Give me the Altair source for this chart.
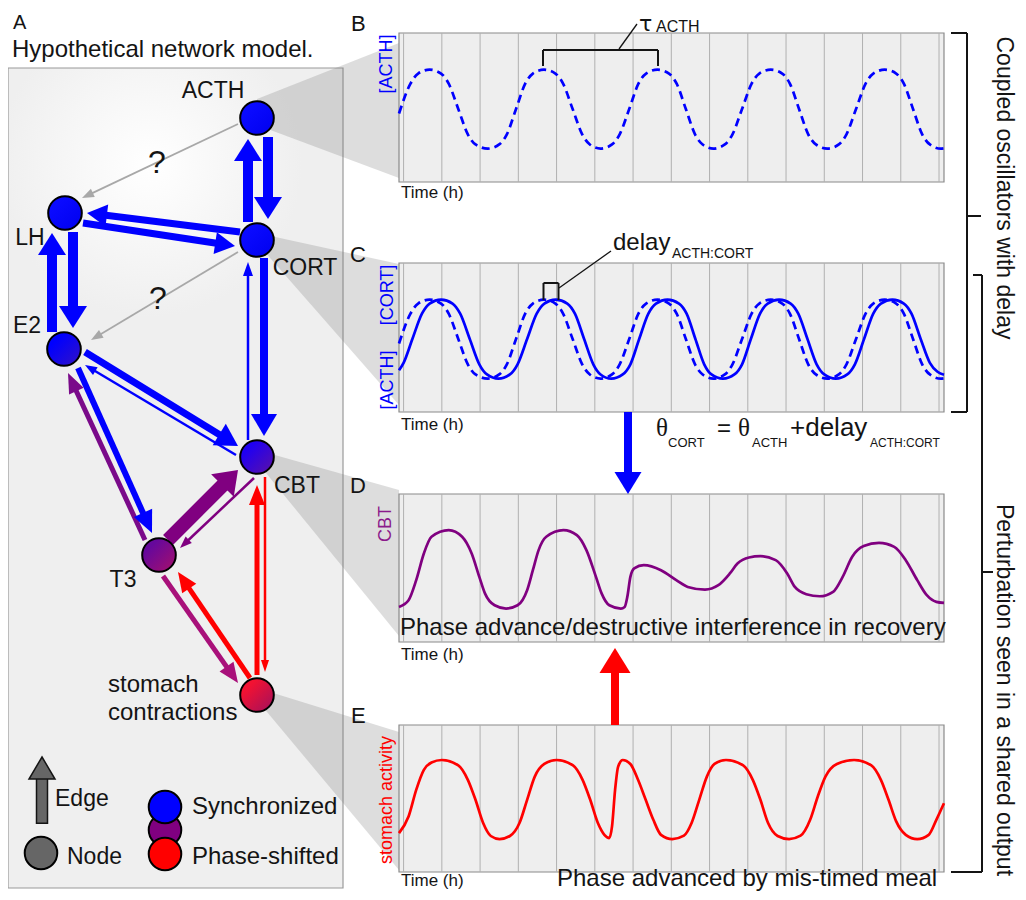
import math
import altair as alt
import pandas as pd

# ---------------- data ----------------
GRID_HOURS = list(range(15))

ACTH_T = [-0.12, 0.18, 0.38, 0.68,
          0.98, 1.18, 1.43, 1.68, 1.88, 2.2,
          2.5, 2.7, 2.94, 3.18, 3.38, 3.67,
          3.97, 4.17, 4.42, 4.67, 4.87, 5.15,
          5.45, 5.65, 5.9, 6.14, 6.34, 6.64,
          6.94, 7.14, 7.38, 7.62, 7.82, 8.1,
          8.4, 8.6, 8.85, 9.1, 9.3, 9.6,
          9.9, 10.1, 10.34, 10.58, 10.78, 11.08,
          11.38, 11.58, 11.83, 12.08, 12.28, 12.58,
          12.88, 13.08, 13.32, 13.56, 13.76, 14.05,
          14.13]
ACTH_V = [0.46, 0.66, 0.728, 0.754,
          0.728, 0.66, 0.49, 0.32, 0.252, 0.224,
          0.252, 0.32, 0.49, 0.66, 0.728, 0.754,
          0.728, 0.66, 0.49, 0.32, 0.252, 0.224,
          0.252, 0.32, 0.49, 0.66, 0.728, 0.754,
          0.728, 0.66, 0.49, 0.32, 0.252, 0.224,
          0.252, 0.32, 0.49, 0.66, 0.728, 0.754,
          0.728, 0.66, 0.49, 0.32, 0.252, 0.224,
          0.252, 0.32, 0.49, 0.66, 0.728, 0.754,
          0.728, 0.66, 0.49, 0.32, 0.252, 0.224,
          0.226]

CORT_T = [-0.12, 0.0, 0.23, 0.48, 0.68, 0.98,
          1.28, 1.48, 1.73, 1.98, 2.18, 2.48,
          2.78, 2.98, 3.23, 3.48, 3.68, 3.98,
          4.28, 4.48, 4.72, 4.96, 5.15, 5.43,
          5.73, 5.93, 6.16, 6.4, 6.6, 6.9,
          7.2, 7.4, 7.63, 7.86, 8.05, 8.35,
          8.65, 8.85, 9.08, 9.32, 9.52, 9.82,
          10.12, 10.32, 10.56, 10.8, 11.0, 11.3,
          11.6, 11.8, 12.04, 12.28, 12.48, 12.78,
          13.08, 13.28, 13.52, 13.76, 13.96, 14.13]
CORT_V = [0.28, 0.33, 0.49, 0.66, 0.728, 0.754,
          0.728, 0.66, 0.49, 0.32, 0.252, 0.224,
          0.252, 0.32, 0.49, 0.66, 0.728, 0.754,
          0.728, 0.66, 0.49, 0.32, 0.252, 0.224,
          0.252, 0.32, 0.49, 0.66, 0.728, 0.754,
          0.728, 0.66, 0.49, 0.32, 0.252, 0.224,
          0.252, 0.32, 0.49, 0.66, 0.728, 0.754,
          0.728, 0.66, 0.49, 0.32, 0.252, 0.224,
          0.252, 0.32, 0.49, 0.66, 0.728, 0.754,
          0.728, 0.66, 0.49, 0.33, 0.27, 0.25]

CBT_T = [-0.12, 0.13, 0.33, 0.53, 0.73, 1.18, 1.53, 1.78, 1.98, 2.13, 2.38, 2.68,
         2.98, 3.23, 3.38, 3.53, 3.73, 4.18, 4.53, 4.78, 5.03, 5.18, 5.38, 5.68,
         5.78, 5.85, 5.93, 6.03, 6.28, 6.73, 7.13, 7.43, 7.88, 8.23, 8.53, 8.73,
         9.03, 9.33, 9.73, 10.03, 10.23, 10.53, 10.88, 11.23, 11.48, 11.73, 12.03,
         12.43, 12.83, 13.13, 13.43, 13.68, 13.93, 14.13]
CBT_V = [0.237, 0.282, 0.418, 0.598, 0.711, 0.756, 0.711, 0.598, 0.44, 0.327, 0.248, 0.226,
         0.248, 0.35, 0.485, 0.621, 0.711, 0.756, 0.722, 0.621, 0.44, 0.327, 0.248, 0.226,
         0.237, 0.305, 0.44, 0.497, 0.519, 0.485, 0.418, 0.372, 0.354, 0.384, 0.463, 0.53,
         0.571, 0.58, 0.553, 0.463, 0.372, 0.323, 0.309, 0.339, 0.44, 0.576, 0.648,
         0.67, 0.643, 0.553, 0.418, 0.316, 0.271, 0.264]

STOM_T = [-0.12, 0.13, 0.33, 0.53, 0.73, 1.0, 1.43, 1.68, 1.88, 2.08, 2.28, 2.51,
          2.78, 3.03, 3.23, 3.43, 3.68, 4.0, 4.43, 4.68, 4.88, 5.08, 5.25, 5.38,
          5.45, 5.53, 5.61, 5.73, 5.93, 6.13, 6.33, 6.53, 6.73, 7.03,
          7.33, 7.53, 7.73, 7.93, 8.13, 8.43, 8.88, 9.13, 9.33, 9.53, 9.78, 10.08,
          10.38, 10.63, 10.83, 11.03, 11.33, 11.78, 12.23, 12.48, 12.68, 12.88, 13.13,
          13.43, 13.73, 13.93, 14.13]
STOM_V = [0.265, 0.378, 0.559, 0.695, 0.745, 0.762, 0.725, 0.627, 0.491, 0.333, 0.245, 0.224,
          0.245, 0.333, 0.491, 0.649, 0.735, 0.762, 0.725, 0.627, 0.491, 0.333, 0.253, 0.231,
          0.31, 0.559, 0.717, 0.762, 0.735, 0.627, 0.491, 0.355, 0.253, 0.224,
          0.247, 0.333, 0.491, 0.649, 0.735, 0.762, 0.725, 0.627, 0.491, 0.333, 0.245, 0.224,
          0.247, 0.355, 0.514, 0.649, 0.735, 0.762, 0.725, 0.627, 0.491, 0.344, 0.253,
          0.224, 0.253, 0.355, 0.468]

assert len(ACTH_T) == len(ACTH_V)
assert len(CORT_T) == len(CORT_V)
assert len(CBT_T) == len(CBT_V)
assert len(STOM_T) == len(STOM_V)

NODE_NAMES = ["ACTH", "LH", "CORT", "E2", "CBT", "T3", "stomach"]

# ---------------- layout (page pixels) ----------------
W, H = 1010, 884
XS = alt.Scale(domain=[8, 8 + W], nice=False, zero=False)
YS = alt.Scale(domain=[8, 8 + H], nice=False, zero=False, reverse=True)
X = alt.X("x:Q", scale=XS, axis=None)
Y = alt.Y("y:Q", scale=YS, axis=None)
SANS = "Liberation Sans"
SERIF = "Liberation Serif"
INK = "#141414"

PX0, PX1 = 399, 944
T_MIN, T_MAX = -0.12, 14.13
PANELS = {"B": (33, 182), "C": (263, 412), "D": (494, 642), "E": (725, 872)}


def px(t):
    return PX0 + (t - T_MIN) / (T_MAX - T_MIN) * (PX1 - PX0)


def py(v, panel):
    top, bot = PANELS[panel]
    return bot - v * (bot - top)


NODE_POS = {"ACTH": (257, 118), "LH": (65, 213), "CORT": (257, 240), "E2": (64, 349),
            "CBT": (257, 457), "T3": (159, 555), "stomach": (257, 695)}
NODE_FILL = {
    "ACTH": ["#0a0aff", "#0000ee"],
    "LH": ["#0a0aff", "#0000ee"],
    "CORT": ["#0a0aff", "#0000ee"],
    "E2": ["#0000ff", "#3412c4"],
    "CBT": ["#2000f2", "#5e12a4"],
    "T3": ["#66089c", "#a8106a"],
    "stomach": ["#f21232", "#a0105e"],
}
NODE_SIZE = 1130


def lin(c0, c1):
    return alt.LinearGradient(gradient="linear",
                              stops=[alt.GradientStop(color=c0, offset=0.25),
                                     alt.GradientStop(color=c1, offset=1)],
                              x1=0, y1=0, x2=1, y2=1)


def rect_layer(rows, **mk):
    df = pd.DataFrame(rows, columns=["x", "x2", "y", "y2"])
    return alt.Chart(df).mark_rect(**mk).encode(x=X, x2="x2:Q", y=Y, y2="y2:Q")


def rule_layer(rows, **mk):
    df = pd.DataFrame(rows, columns=["x", "y", "x2", "y2", "color", "w"])
    return alt.Chart(df).mark_rule(strokeCap="butt", **mk).encode(
        x=X, y=Y, x2="x2:Q", y2="y2:Q",
        color=alt.Color("color:N", scale=None),
        strokeWidth=alt.StrokeWidth("w:Q", scale=None))


def text_layer(rows, font=SANS, align="left", baseline="alphabetic"):
    df = pd.DataFrame(rows, columns=["x", "y", "text", "size", "color", "angle"])
    return alt.Chart(df).mark_text(font=font, align=align, baseline=baseline).encode(
        x=X, y=Y, text="text:N",
        size=alt.Size("size:Q", scale=None),
        color=alt.Color("color:N", scale=None),
        angle=alt.Angle("angle:Q", scale=None))


def arrow_layers(rows, stroke=None):
    shafts, heads = [], []
    for (x1, y1, x2, y2, w, hl, hw, col) in rows:
        d = math.hypot(x2 - x1, y2 - y1)
        ux, uy = (x2 - x1) / d, (y2 - y1) / d
        shafts.append((x1, y1, x2 - 0.85 * hl * ux, y2 - 0.85 * hl * uy, col, w))
        ang = math.degrees(math.atan2(ux, -uy)) % 360
        a = hw / hl
        heads.append({"x": x2 - hl / 2 * ux, "y": y2 - hl / 2 * uy, "color": col,
                      "ang": ang, "size": hl * hl,
                      "shape": f"M0,-1L{a:.3f},1L-{a:.3f},1Z"})
    mk = dict(filled=True, opacity=1, fillOpacity=1)
    if stroke:
        mk.update(stroke=stroke, strokeWidth=1.5, strokeOpacity=1)
    head = alt.Chart(pd.DataFrame(heads)).mark_point(**mk).encode(
        x=X, y=Y, color=alt.Color("color:N", scale=None),
        angle=alt.Angle("ang:Q", scale=None),
        size=alt.Size("size:Q", scale=None),
        shape=alt.Shape("shape:N", scale=None))
    return [rule_layer(shafts), head]


layers = []

# left panel box and glow
layers.append(rect_layer([(8, 343, 68, 888)], fill="#efefef", stroke="#9a9a9a", strokeWidth=1.2))
layers.append(rect_layer([(9, 330, 69, 400)], fill=alt.RadialGradient(
    gradient="radial",
    stops=[alt.GradientStop(color="#ffffff", offset=0),
           alt.GradientStop(color="#efefef", offset=1)],
    x1=0.44, y1=0.29, r1=0, x2=0.44, y2=0.29, r2=0.46)))

# projection wedges from nodes to panels
wedge_rows = [
    ("B", 257, 99, 125), ("B", 399, 43, 178),
    ("C", 257, 233, 243), ("C", 399, 264, 405),
    ("D", 257, 450, 462), ("D", 399, 490, 636),
    ("E", 257, 688, 700), ("E", 399, 732, 870),
]
wdf = pd.DataFrame(wedge_rows, columns=["w", "x", "y", "y2"])
layers.append(alt.Chart(wdf).mark_area(orient="vertical", color="#7a7a7a", opacity=0.26).encode(
    x=X, y=Y, y2="y2:Q", detail="w:N"))

# time-series panels
layers.append(rect_layer([(PX0, PX1, t, b) for t, b in PANELS.values()],
                         fill="#eeeeee", stroke="#8a8a8a", strokeWidth=1.2))
grid = [(px(h), top, px(h), bot, "#b0b0b0", 1) for (top, bot) in PANELS.values() for h in GRID_HOURS]
layers.append(rule_layer(grid))


def curve(ts, vs, panel, color, dash=None):
    df = pd.DataFrame({"x": [px(t) for t in ts], "y": [py(v, panel) for v in vs]})
    mk = dict(interpolate="monotone", color=color, strokeWidth=2.7)
    if dash:
        mk["strokeDash"] = dash
    return alt.Chart(df).mark_line(**mk).encode(x=X, y=Y)


layers.append(curve(ACTH_T, ACTH_V, "B", "#0000ff", [8, 5]))
layers.append(curve(ACTH_T, ACTH_V, "C", "#0000ff", [8, 5]))
layers.append(curve(CORT_T, CORT_V, "C", "#0000ff"))
layers.append(curve(CBT_T, CBT_V, "D", "#800080"))
layers.append(curve(STOM_T, STOM_V, "E", "#ff0000"))

# annotations: brackets, leaders
layers.append(rule_layer([
    (543, 66, 543, 50, INK, 2), (543, 50, 658, 50, INK, 2), (658, 50, 658, 66, INK, 2),
    (619, 49, 637, 24, INK, 1.3),
    (543.5, 300, 543.5, 283, INK, 2), (543.5, 283, 558.5, 283, INK, 2), (558.5, 283, 558.5, 300, INK, 2),
    (559, 288, 611, 251, INK, 1.3),
    (951, 33, 967, 33, INK, 2), (967, 33, 967, 412, INK, 2), (951, 412, 967, 412, INK, 2),
    (967, 216, 981, 216, INK, 2),
    (973, 275, 982, 275, INK, 2), (982, 275, 982, 872, INK, 2), (951, 872, 982, 872, INK, 2),
    (982, 572, 993, 572, INK, 2),
]))

# network arrows
ARROWS = [
    (268, 137, 268, 219, 10, 22, 28, "#0000ff"),
    (248, 222, 248, 139, 10, 22, 28, "#0000ff"),
    (83, 223, 235, 246, 7, 20, 22, "#0000ff"),
    (240, 232, 87, 213, 7, 20, 22, "#0000ff"),
    (73, 232, 73, 328, 10, 22, 28, "#0000ff"),
    (52, 332, 52, 233, 10, 22, 28, "#0000ff"),
    (264, 258, 264, 436, 8, 22, 26, "#0000ff"),
    (248, 440, 248, 262, 2.5, 14, 10, "#0000ff"),
    (85, 352, 238, 446, 7, 22, 25, "#0000ff"),
    (236, 455, 85, 365, 2.5, 12, 9, "#0000ff"),
    (78, 368, 152, 533, 6, 22, 20, "#0000ff"),
    (145, 540, 68, 373, 5, 20, 16, "#7a0a8a"),
    (168, 540, 238, 470, 14, 22, 32, "#800080"),
    (254, 478, 180, 548, 2.5, 12, 9, "#800080"),
    (257, 675, 257, 485, 5, 20, 16, "#ff0000"),
    (265, 477, 265, 672, 2.5, 12, 8, "#ff0000"),
    (250, 678, 178, 572, 5, 20, 17, "#ff0000"),
    (163, 576, 238, 683, 5, 20, 17, "#a8107a"),
    (238, 124, 82, 198, 1.8, 12, 9, "#a8a8a8"),
    (238, 252, 91, 340, 1.8, 12, 9, "#a8a8a8"),
    (628, 412, 628, 494, 8, 22, 27, "#0000ff"),
    (615, 725, 615, 648, 8, 25, 31, "#ff0000"),
]
layers += arrow_layers(ARROWS)

# legend edge arrow (outlined)
layers.append(rule_layer([(42, 824, 42, 775, INK, 12.5)]))
layers.append(rule_layer([(42, 822.5, 42, 774, "#666666", 9.5)]))
layers += arrow_layers([(42, 790, 42, 757, 0.1, 22, 26, "#666666")], stroke=INK)[1:]

# nodes
for name in NODE_NAMES:
    x, y = NODE_POS[name]
    c0, c1 = NODE_FILL[name]
    layers.append(alt.Chart(pd.DataFrame({"x": [x], "y": [y]})).mark_point(
        shape="circle", size=NODE_SIZE, filled=True, fill=lin(c0, c1), opacity=1,
        fillOpacity=1, stroke="#000000", strokeWidth=2, strokeOpacity=1).encode(x=X, y=Y))

# legend nodes
LEG = [(41, 853, "#666666"), (165, 830, "#800080"), (165, 854, "#ff0000"), (165, 807, "#0000ff")]
for (x, y, c) in LEG:
    layers.append(alt.Chart(pd.DataFrame({"x": [x], "y": [y]})).mark_point(
        shape="circle", size=1060, filled=True, fill=c, opacity=1, fillOpacity=1,
        stroke="#000000", strokeWidth=2, strokeOpacity=1).encode(x=X, y=Y))

# texts
layers.append(text_layer([
    (13, 29, "A", 20, INK, 0),
    (12, 57, "Hypothetical network model.", 24, INK, 0),
    (351, 31, "B", 22, INK, 0), (350, 262, "C", 22, INK, 0),
    (350, 493, "D", 22, INK, 0), (351, 723, "E", 22, INK, 0),
    (108, 692, "stomach", 24, INK, 0), (108, 720, "contractions", 24, INK, 0),
    (55, 806, "Edge", 23, INK, 0), (67, 864, "Node", 23, INK, 0),
    (192, 814, "Synchronized", 24, INK, 0), (192, 864, "Phase-shifted", 24, INK, 0),
    (401, 198, "Time (h)", 17, INK, 0), (401, 430, "Time (h)", 17, INK, 0),
    (401, 660, "Time (h)", 17, INK, 0), (401, 886, "Time (h)", 17, INK, 0),
    (400, 635, "Phase advance/destructive interference in recovery", 24, INK, 0),
    (557, 886, "Phase advanced by mis-timed meal", 24, INK, 0),
    (613, 250, "delay", 24, INK, 0), (672, 258, "ACTH:CORT", 14, INK, 0),
    (656, 32, "ACTH", 16, INK, 0),
    (668, 447, "CORT", 13, INK, 0), (717, 436, "=", 24, INK, 0),
    (752, 447, "ACTH", 13, INK, 0), (790, 436, "+delay", 26, INK, 0),
    (870, 447, "ACTH:CORT", 12, INK, 0),
]))
layers.append(text_layer([
    (639, 31, "\u03c4", 22, INK, 0),
], font="DejaVu Sans"))
layers.append(text_layer([
    (656, 436, "\u03b8", 25, INK, 0),
    (738, 436, "\u03b8", 25, INK, 0),
], font=SERIF))
layers.append(text_layer([
    (213, 98, "ACTH", 23, INK, 0), (30, 245, "LH", 23, INK, 0),
    (305, 275, "CORT", 23, INK, 0), (27, 333, "E2", 23, INK, 0),
    (297, 493, "CBT", 23, INK, 0), (123, 587, "T3", 23, INK, 0),
    (157, 173, "?", 32, INK, 0), (158, 309, "?", 32, INK, 0),
], align="center"))
layers.append(text_layer([
    (387, 64, "[ACTH]", 18, "#0000ff", 270),
    (388, 295, "[CORT]", 18, "#0000ff", 270),
    (388, 380, "[ACTH]", 18, "#0000ff", 270),
    (386, 524, "CBT", 18, "#8b1a8b", 270),
    (387, 800, "stomach activity", 18, "#ff0000", 270),
    (1004, 188, "Coupled oscillators  with delay", 23, INK, 90),
    (1004, 690, "Perturbation seen in a shared output", 23, INK, 90),
], align="center", baseline="middle"))

chart = alt.layer(*layers).properties(
    width=W, height=H, padding=0, background="white",
    autosize=alt.AutoSizeParams(type="none"),
).configure_view(stroke=None)

chart.save("out.html", embed_options={"renderer": "svg", "actions": False})
